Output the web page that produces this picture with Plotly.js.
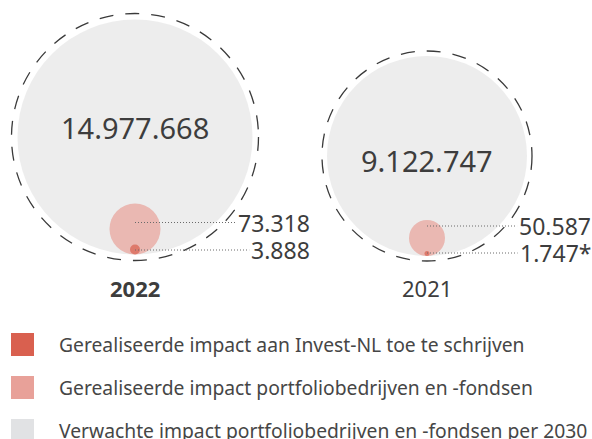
<!DOCTYPE html>
<html><head><meta charset="utf-8">
<script src="https://cdn.plot.ly/plotly-3.0.1.min.js"></script>
<style>html,body{margin:0;padding:0;background:#fff}#chart{width:592px;height:439px}</style>
</head><body><div id="chart"></div>
<script>
// ---- data ----
const years = ['2022', '2021'];
const expectedImpact = [14977668, 9122747];
const realisedImpact = [73318, 50587];
const attributableImpact = [3888, 1747];
const attributableNotes = ['', '*'];
const legendLabels = [
  'Gerealiseerde impact aan Invest-NL toe te schrijven',
  'Gerealiseerde impact portfoliobedrijven en -fondsen',
  'Verwachte impact portfoliobedrijven en -fondsen per 2030'
];

// ---- styling / geometry (pixel units) ----
const FONT = '"Noto Sans", "DejaVu Sans", sans-serif';
const COLORS = {attrib:'#d9604f', realised:'#e8a199', expected:'#e6e6e6', legendExpected:'#e1e2e4',
                ring:'#3a3a3a', leader:'#6a6a6a', text:'#3d3d3d', legendText:'#464646'};
const geom = {
  baseline:[254.5, 256],
  rExpected:[117.5, 100],
  rRealised:[25.5, 18],
  rAttrib:[5, 2.5],
  ringGap:[6, 5],
  valueLabelY:[127.5, 160.5],
  leaderTopY:[222.5, 226],
  leaderBottomY:[250, 253],
  labelRightOffset:[176, 165],
  yearLabelY:[288, 287.5]
};
const SIZES = {value:29, small:23, year:22, legend:19.3};
const W = 592, H = 439;

function fmt(n){ return String(n).replace(/\B(?=(\d{3})+(?!\d))/g, '.'); }
const canvas = document.createElement('canvas');
const ctx = canvas.getContext('2d');
function textW(t, size){ ctx.font = size + 'px ' + FONT; return ctx.measureText(t).width; }

const traces = [
  {name:legendLabels[2], x:years, y:years.map((_,i)=>geom.baseline[i]-geom.rExpected[i]),
   customdata:expectedImpact, mode:'markers', type:'scatter',
   marker:{color:COLORS.expected, size:geom.rExpected.map(r=>2*r), line:{width:0}}},
  {name:legendLabels[1], x:years, y:years.map((_,i)=>geom.baseline[i]-geom.rRealised[i]),
   customdata:realisedImpact, mode:'markers', type:'scatter',
   marker:{color:COLORS.realised, size:geom.rRealised.map(r=>2*r), line:{width:0}}},
  {name:legendLabels[0], x:years, y:years.map((_,i)=>geom.baseline[i]-geom.rAttrib[i]),
   customdata:attributableImpact, mode:'markers', type:'scatter',
   marker:{color:COLORS.attrib, size:geom.rAttrib.map(r=>2*r), line:{width:0}}}
];

const shapes = [];
const annotations = [];
years.forEach((yr, i) => {
  const R = geom.rExpected[i] + geom.ringGap[i];
  shapes.push({type:'circle', layer:'below', xref:'x', yref:'y', xsizemode:'pixel', ysizemode:'pixel',
    xanchor:i, yanchor:geom.baseline[i]-geom.rExpected[i], x0:-R, x1:R, y0:-R, y1:R,
    line:{color:COLORS.ring, width:1.3, dash:'14px,12px'}, fillcolor:'rgba(0,0,0,0)'});
  // value label
  annotations.push({x:i, y:geom.valueLabelY[i], xref:'x', yref:'y', text:fmt(expectedImpact[i]),
    showarrow:false, xanchor:'center', yanchor:'middle', font:{family:FONT, size:SIZES.value, color:COLORS.text}});
  // small labels + leaders
  const items = [
    {txt:fmt(realisedImpact[i]), y:geom.leaderTopY[i]},
    {txt:fmt(attributableImpact[i]) + attributableNotes[i], y:geom.leaderBottomY[i]}
  ];
  items.forEach(it => {
    const w = textW(it.txt, SIZES.small);
    const len = geom.labelRightOffset[i] - w - 3;
    shapes.push({type:'line', layer:'above', xref:'x', yref:'y', xsizemode:'pixel', xanchor:i,
      x0:0, x1:len, y0:it.y, y1:it.y, line:{color:COLORS.leader, width:1, dash:'1px,2px'}});
    annotations.push({x:i, xshift:geom.labelRightOffset[i], y:it.y, xref:'x', yref:'y', text:it.txt,
      showarrow:false, xanchor:'right', yanchor:'middle', borderpad:0,
      font:{family:FONT, size:SIZES.small, color:COLORS.text}});
  });
  annotations.push({x:i, y:geom.yearLabelY[i], xref:'x', yref:'y', text: i===0 ? '<b>'+yr+'</b>' : yr,
    showarrow:false, xanchor:'center', yanchor:'middle', font:{family:FONT, size:SIZES.year, color:COLORS.text}});
});

// legend (drawn manually)
const legColors = [COLORS.attrib, COLORS.realised, COLORS.legendExpected];
const legTops = [333, 376, 419];
legendLabels.forEach((lab, k) => {
  const t = legTops[k];
  shapes.push({type:'rect', xref:'paper', yref:'paper', x0:11/W, x1:34/W, y0:1-(t+23)/H, y1:1-t/H,
    line:{width:0}, fillcolor:legColors[k]});
  annotations.push({xref:'paper', yref:'paper', x:58/W, y:1-(t+11.5)/H, text:lab, showarrow:false,
    xanchor:'left', yanchor:'middle', borderpad:0, font:{family:FONT, size:SIZES.legend, color:COLORS.legendText}});
});

const c0 = 135, c1 = 427, step = c1 - c0;
const layout = {
  width:W, height:H, margin:{l:0, r:0, t:0, b:0},
  paper_bgcolor:'#fff', plot_bgcolor:'#fff', showlegend:false,
  xaxis:{type:'category', categoryorder:'array', categoryarray:years, range:[-c0/step, (W-c0)/step],
         visible:false, fixedrange:true},
  yaxis:{range:[H, 0], visible:false, fixedrange:true},
  shapes, annotations
};
Plotly.newPlot('chart', traces, layout, {staticPlot:true, displayModeBar:false});
</script>
</body></html>
